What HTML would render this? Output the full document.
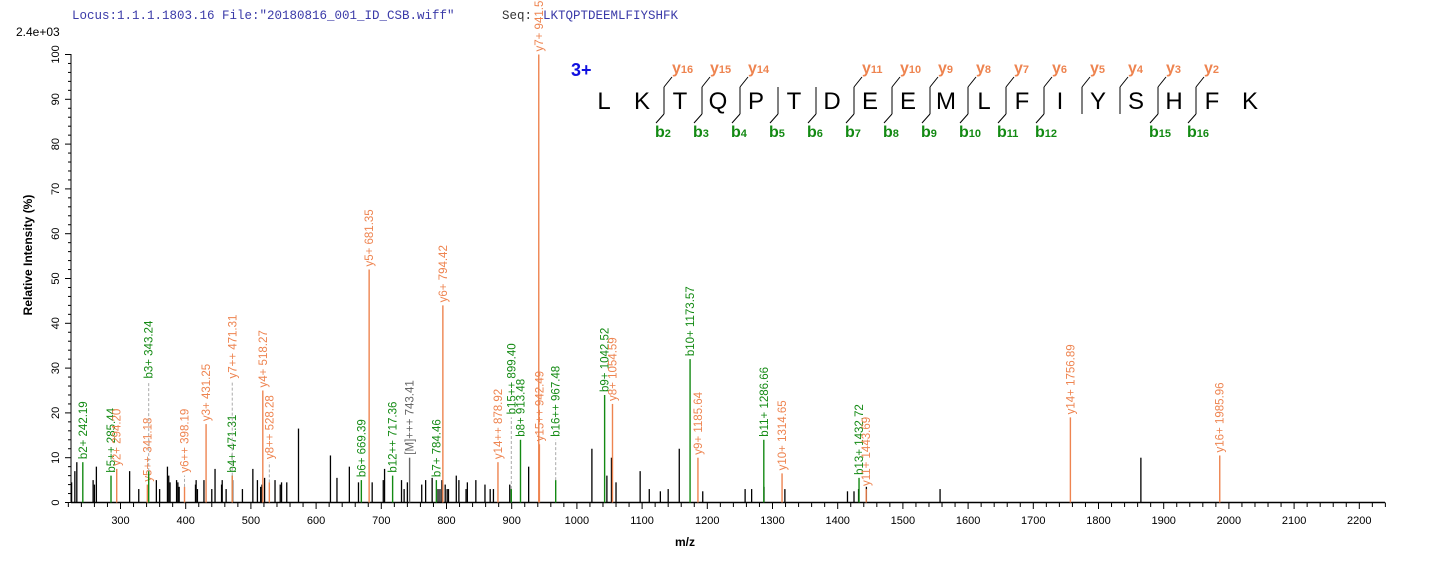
<!DOCTYPE html>
<html><head><meta charset="utf-8"><style>
html,body{margin:0;padding:0;background:#fff;}
svg{display:block;font-family:"Liberation Sans",Arial,sans-serif;}
</style></head><body>
<svg id="s" width="1436" height="562" xmlns="http://www.w3.org/2000/svg">
<text x="72" y="19" font-family="Liberation Mono,monospace" font-size="12.5" fill="#3a3aa8">Locus:1.1.1.1803.16 File:"20180816_001_ID_CSB.wiff"</text>
<text x="502" y="19" font-family="Liberation Mono,monospace" font-size="12.5" fill="#333">Seq:</text>
<text x="543" y="19" font-family="Liberation Mono,monospace" font-size="12.5" fill="#3a3aa8">LKTQPTDEEMLFIYSHFK</text>
<text x="16" y="36" font-size="12" fill="#000">2.4e+03</text>
<text transform="translate(32,255) rotate(-90)" text-anchor="middle" font-size="12" font-weight="bold">Relative   Intensity (%)</text>
<text x="685" y="546" text-anchor="middle" font-size="12" font-weight="bold">m/z</text>
<text x="571" y="76" font-size="18" font-weight="bold" fill="#1010e0">3+</text>
<g id="g"></g>
</svg>
<script>
var g=document.getElementById('g'),NS='http://www.w3.org/2000/svg';
function X(m){return 120.5+(m-300)*0.652;}
function Y(p){return 502.5-4.48*p;}
function el(t,a,txt){var e=document.createElementNS(NS,t);for(var k in a)e.setAttribute(k,a[k]);if(txt!=null)e.textContent=txt;g.appendChild(e);return e;}
el('line',{x1:71,y1:502.5,x2:1385,y2:502.5,stroke:'#000','stroke-width':1.5});
el('line',{x1:71,y1:502.5,x2:71,y2:54,stroke:'#000','stroke-width':1});
for(var p=0;p<=100;p+=2){var y=Y(p);var maj=p%10==0;el('line',{x1:maj?65:68,y1:y,x2:71,y2:y,stroke:'#000'});
 if(maj)el('text',{transform:'translate(59,'+y+') rotate(-90)','text-anchor':'middle','font-size':11},String(p));}
for(var m=220;m<=2240;m+=20){var x=X(m);var maj=m%100==0;el('line',{x1:x,y1:502.5,x2:x,y2:maj?509:507,stroke:'#000'});
 if(maj&&m>=300)el('text',{x:x,y:524,'text-anchor':'middle','font-size':11},String(m));}
var bk=[[225,4.5],[230,7],[233,9],[258,5],[260,4],[263,8],[314,7],[328,3],[355,5],[360,3],[372,8],[374,6],[376,4.5],[386,5],[388,4.5],[390,3.5],[415,4],[416,5],[418,3],[428,5],[440,3],[445,7.5],[455,4],[456,5],[462,3],[472,5],[487,3],[503,7.5],[510,5],[515,3.5],[517,4],[521,5.5],[537,5],[545,4],[547,4.5],[555,4.5],[573,16.5],[622,10.5],[632,5.5],[651,8],[665,4.5],[686,4.5],[703,5],[705,7.5],[731,5],[735,3],[740,4.5],[762,4],[768,5],[778,5.5],[787,3],[790,3],[793,5],[798,4],[801,3],[803,3],[815,6],[819,5],[830,3],[832,4.5],[845,5],[859,4],[867,3],[872,3],[897,4],[926,8],[1023,12],[1046,6],[1053,10],[1060,4.5],[1097,7],[1111,3],[1128,2.5],[1140,3],[1157,12],[1193,2.5],[1258,3],[1268,3],[1287,3.5],[1319,3],[1415,2.5],[1425,2.5],[1432,3],[1444,3.5],[1557,3],[1865,10]];
bk.forEach(function(d){var x=X(d[0]);el('line',{x1:x,y1:502.5,x2:x,y2:Y(d[1]),stroke:'#000','stroke-width':1.3});});
var O='#ee8450',G='#138a13',GR='#666';
var an=[
[242.19,9,G,'b2+ 242.19'],[285.44,6,G,'b5++ 285.44'],[294.20,7.5,O,'y2+ 294.20'],[341.18,4,O,'y5++ 341.18'],[343.24,7,G,'b3+ 343.24',27],
[398.19,3.5,O,'y6++ 398.19',6],[431.25,17.5,O,'y3+ 431.25'],[471.31,6,G,'b4+ 471.31'],[471.4,6,O,'y7++ 471.31',27],
[518.27,25,O,'y4+ 518.27'],[528.28,4.5,O,'y8++ 528.28',9],[669.39,5,G,'b6+ 669.39'],[681.35,52,O,'y5+ 681.35'],
[717.36,6,G,'b12++ 717.36'],[743.41,10,GR,'[M]+++ 743.41'],[784.46,5,G,'b7+ 784.46'],[794.42,44,O,'y6+ 794.42'],
[878.92,9,O,'y14++ 878.92'],[899.40,3,G,'b15++ 899.40',19],[913.48,14,G,'b8+ 913.48'],[941.50,100,O,'y7+ 941.50'],
[942.49,13,O,'y15++ 942.49'],[967.48,5,G,'b16++ 967.48',14],[1042.52,24,G,'b9+ 1042.52'],[1054.59,22,O,'y8+ 1054.59'],
[1173.57,32,G,'b10+ 1173.57'],[1185.64,10,O,'y9+ 1185.64'],[1286.66,14,G,'b11+ 1286.66'],[1314.65,6.5,O,'y10+ 1314.65'],
[1432.72,5.5,G,'b13+ 1432.72'],[1443.69,3,O,'y11+ 1443.69'],[1756.89,19,O,'y14+ 1756.89'],[1985.96,10.5,O,'y16+ 1985.96']];
an.forEach(function(d){var x=X(d[0]);var y=Y(d[1]);el('line',{x1:x,y1:502.5,x2:x,y2:y,stroke:d[2],'stroke-width':1.4});
 var ly=d[4]?Y(d[4]):y;
 if(d[4]&&d[4]>d[1])el('line',{x1:x,y1:y,x2:x,y2:ly,stroke:'#aaa','stroke-dasharray':'3,2'});
 el('text',{transform:'translate('+(x+4)+','+(ly-3)+') rotate(-90)','font-size':11.5,fill:d[2]},d[3]);});
var seq='LKTQPTDEEMLFIYSHFK';
for(var i=0;i<seq.length;i++)el('text',{x:604+38*i,y:109,'text-anchor':'middle','font-size':24,fill:'#000'},seq[i]);
var yi={2:16,3:15,4:14,7:11,8:10,9:9,10:8,11:7,12:6,13:5,14:4,15:3,16:2};
var bi={2:2,3:3,4:4,5:5,6:6,7:7,8:8,9:9,10:10,11:11,12:12,15:15,16:16};
for(var k=2;k<=16;k++){var lx=604+38*k-16;
 el('line',{x1:lx,y1:87,x2:lx,y2:114,stroke:'#000'});
 if(yi[k]){el('line',{x1:lx,y1:87,x2:lx+8,y2:77,stroke:'#000'});
  var t=el('text',{x:lx+8,y:73,'font-size':16,'font-weight':'bold',fill:O},'y');var s=document.createElementNS(NS,'tspan');s.setAttribute('font-size','11');s.textContent=String(yi[k]);t.appendChild(s);}
 if(bi[k]){el('line',{x1:lx,y1:114,x2:lx-8,y2:123,stroke:'#000'});
  var t=el('text',{x:lx-9,y:137,'font-size':16,'font-weight':'bold',fill:G},'b');var s=document.createElementNS(NS,'tspan');s.setAttribute('font-size','11');s.textContent=String(bi[k]);t.appendChild(s);}
}
</script>
</body></html>
